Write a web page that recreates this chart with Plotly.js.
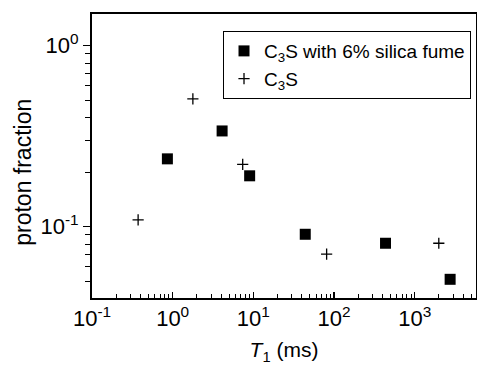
<!DOCTYPE html>
<html><head><meta charset="utf-8">
<script src="https://cdn.plot.ly/plotly-3.0.1.min.js"></script>
<style>body{margin:0;background:#fff}#c{width:477px;height:369px}</style>
</head><body><div id="c"></div>
<script>
const sfX = [0.86, 4.1, 9.0, 44, 435, 2750];
const sfY = [0.237, 0.338, 0.191, 0.0908, 0.081, 0.0512];
const c3sX = [0.373, 1.78, 7.38, 81, 1990];
const c3sY = [0.109, 0.508, 0.221, 0.0706, 0.081];
const xTickVals = [0.1, 1, 10, 100, 1000];
const xTickText = ['10<sup>-1</sup>', '10<sup>0</sup>', '10<sup>1</sup>', '10<sup>2</sup>', '10<sup>3</sup>'];
const yTickVals = [0.1, 1];
const yTickText = ['10<sup>-1</sup>', '10<sup>0</sup>'];

const F = 'Liberation Sans, Arial, sans-serif';
function minorVals(lo, hi) {
  const v = [];
  for (let e = lo; e <= hi; e++) for (let m = 2; m <= 9; m++) v.push(m * Math.pow(10, e));
  return v;
}
const data = [
  {x: sfX, y: sfY, mode: 'markers', type: 'scatter', name: 'C<sub>3</sub>S with 6% silica fume',
   legendgroup: 'a', marker: {symbol: 'square', size: 11, color: '#000'}},
  {x: c3sX, y: c3sY, mode: 'markers', type: 'scatter', name: 'C<sub>3</sub>S',
   legendgroup: 'b', marker: {symbol: 'cross-thin', size: 8, color: '#000', line: {color: '#000', width: 1.3}}}
];
const layout = {
  width: 477, height: 369,
  margin: {l: 92, r: 1, t: 14, b: 71},
  paper_bgcolor: '#fff', plot_bgcolor: '#fff',
  font: {family: F, color: '#000', size: 20},
  showlegend: true,
  legend: {x: 0.987, y: 0.94, xanchor: 'right', yanchor: 'top', bgcolor: '#fff',
    bordercolor: '#000', borderwidth: 1, font: {family: F, size: 19, color: '#000'},
    itemwidth: 30, traceorder: 'grouped', tracegroupgap: 0},
  xaxis: {type: 'log', range: [-1, 3.76], showgrid: false, zeroline: false,
    showline: true, linecolor: '#000', linewidth: 2, mirror: true,
    ticks: 'inside', ticklen: 6, tickwidth: 1.5, tickcolor: '#000',
    tickmode: 'array', tickvals: xTickVals, ticktext: xTickText,
    tickfont: {family: F, size: 22},
    minor: {ticks: 'inside', ticklen: 4, tickwidth: 1, tickcolor: '#000', tickmode: 'array', tickvals: minorVals(-1, 3)},
    title: {text: '<i>T</i><sub>1</sub> (ms)', font: {family: F, size: 21}, standoff: 12}},
  yaxis: {type: 'log', range: [-1.394, 0.175], showgrid: false, zeroline: false,
    showline: true, linecolor: '#000', linewidth: 2, mirror: true,
    ticks: 'outside', ticklen: 7, tickwidth: 1.5, tickcolor: '#000',
    tickmode: 'array', tickvals: yTickVals, ticktext: yTickText,
    tickfont: {family: F, size: 22},
    minor: {ticks: 'outside', ticklen: 5, tickwidth: 1, tickcolor: '#000', tickmode: 'array', tickvals: minorVals(-2, -1)}},
  annotations: [{text: 'proton fraction', textangle: -90, xref: 'paper', yref: 'paper',
    x: -0.18, y: 0.444, xanchor: 'center', yanchor: 'middle', showarrow: false,
    font: {family: F, size: 23}}]
};
Plotly.newPlot('c', data, layout, {displayModeBar: false, staticPlot: true});
</script></body></html>
